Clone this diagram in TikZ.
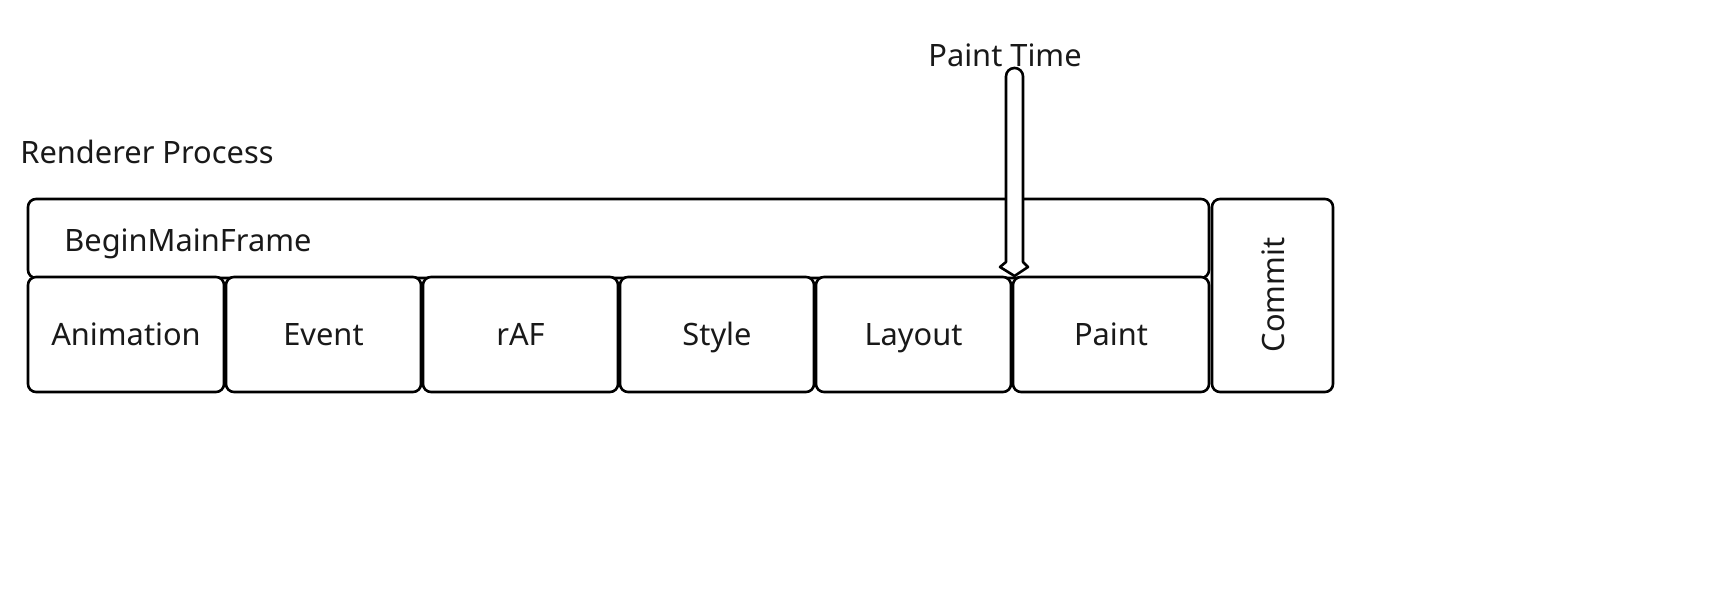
\documentclass[tikz,border=0pt]{standalone}
\usepackage{fontspec}
\setmainfont{Noto Sans}
\begin{document}
\begin{tikzpicture}[x=0.5pt,y=-0.5pt,
  box/.style={draw=black,line width=1.3pt,rounded corners=4pt,fill=white},
  lbl/.style={font=\fontsize{15.4pt}{18pt}\selectfont,inner sep=0pt,text=black!90}]
\useasboundingbox (0,0) rectangle (1735,613);
% top box
\draw[box] (28,199) rectangle (1209,278);
\node[lbl,anchor=base west] (bmf) at (64,252) {BeginMainFrame};
% cells
\foreach \n/\a/\b/\t in {anim/28/224/Animation,evt/226/421/Event,raf/423/618/rAF,sty/620/814/Style,lay/816/1011/Layout,pnt/1013/1209/Paint}{
  \draw[box] (\a,277) rectangle (\b,392);
  \node[lbl,anchor=base] (\n) at ({(\a+\b)/2},346) {\t};
}
% commit
\draw[box] (1212,199) rectangle (1333,392);
\node[lbl,rotate=90,anchor=base] (commit) at (1284,295) {Commit};
% labels
\node[lbl,anchor=base west] (rp) at (20,164) {Renderer Process};
\node[lbl,anchor=base] (pt) at (1005,67) {Paint Time};
% arrow
\coordinate (tip) at (1014.5,276);
\draw[line width=1.3pt,fill=white,line join=round]
  (1006,262) [rounded corners=4.2pt] -- (1006,68) -- (1023,68) [sharp corners] -- (1023,262)
  -- (1028,267) -- (tip) -- (1000,267) -- cycle;
\end{tikzpicture}
\end{document}
